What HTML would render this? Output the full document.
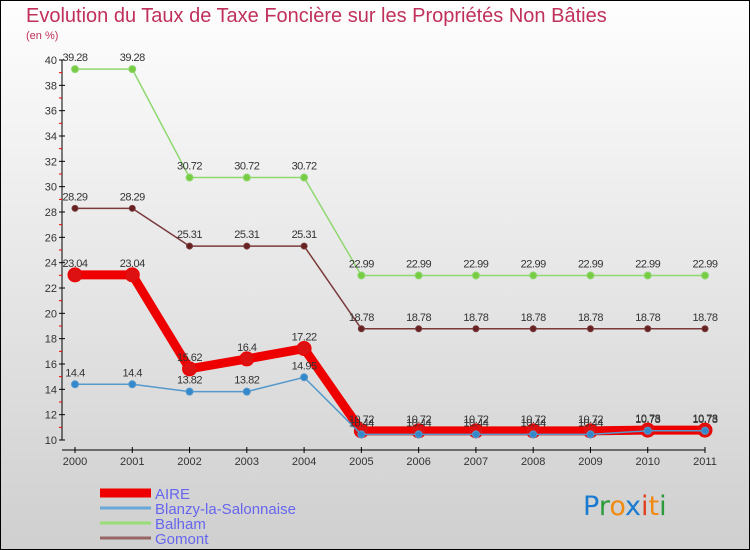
<!DOCTYPE html>
<html><head><meta charset="utf-8"><style>
body{margin:0;}
#wrap{width:750px;height:550px;position:relative;background:linear-gradient(#fefefe,#cfcfcf);box-sizing:border-box;border:1px solid #000;font-family:"Liberation Sans",sans-serif;overflow:hidden}
</style></head><body>
<div id="wrap">
<svg id="chart" width="750" height="550" style="position:absolute;left:-1px;top:-1px">
<text x="26" y="22" font-size="20" fill="#c0305a">Evolution du Taux de Taxe Foncière sur les Propriétés Non Bâties</text>
<text x="26" y="39" font-size="11" fill="#c0305a">(en %)</text>
<g id="axes"></g><g id="series"></g><g id="legend"></g>
<text x="583" y="515" font-size="27" font-family="'DejaVu Sans',sans-serif"><tspan fill="#1a7ad0">P</tspan><tspan fill="#2a9a3a">r</tspan><tspan fill="#f08a10">o</tspan><tspan fill="#1a7ad0">x</tspan><tspan fill="#e04020">i</tspan><tspan fill="#f08a10">t</tspan><tspan fill="#2a9a3a">i</tspan></text>
</svg>
</div>
<script>
const years=[2000,2001,2002,2003,2004,2005,2006,2007,2008,2009,2010,2011];
const aire=[23.04,23.04,15.62,16.4,17.22,10.72,10.72,10.72,10.72,10.72,10.78,10.78];
const blanzy=[14.4,14.4,13.82,13.82,14.95,10.44,10.44,10.44,10.44,10.44,10.73,10.73];
const balham=[39.28,39.28,30.72,30.72,30.72,22.99,22.99,22.99,22.99,22.99,22.99,22.99];
const gomont=[28.29,28.29,25.31,25.31,25.31,18.78,18.78,18.78,18.78,18.78,18.78,18.78];
const yTicks=[10,12,14,16,18,20,22,24,26,28,30,32,34,36,38,40];
const seriesNames=["AIRE","Blanzy-la-Salonnaise","Balham","Gomont"];
const NS="http://www.w3.org/2000/svg";
const X=i=>75+i*(630/11);
const Y=v=>440-(v-10)*(380/30);
function mk(tag,attrs,parent){const e=document.createElementNS(NS,tag);for(const k in attrs)e.setAttribute(k,attrs[k]);parent.appendChild(e);return e;}
const axes=document.getElementById('axes');
let a=mk('line',{x1:62,y1:60,x2:62,y2:440,stroke:'#000'},axes);


a=mk('line',{x1:62,y1:450,x2:705,y2:450,stroke:'#000'},axes);


yTicks.forEach(t=>{
  mk('line',{x1:59,x2:65,y1:Y(t),y2:Y(t),stroke:'#000'},axes);
  if(t<40)mk('line',{x1:59,x2:62,y1:Y(t+1),y2:Y(t+1),stroke:'#e00'},axes);
  const tx=mk('text',{x:57,y:Y(t)+4,'font-size':11,fill:'#333','text-anchor':'end'},axes);
  tx.textContent=t;
  
  
});
years.forEach((y,i)=>{
  mk('line',{x1:X(i),x2:X(i),y1:447,y2:453,stroke:'#000'},axes);
  const tx=mk('text',{x:X(i),y:465,'font-size':11,fill:'#333','text-anchor':'middle'},axes);
  tx.textContent=y;
  
  
});
const sg=document.getElementById('series');
function draw(vals,color,w,r,dot,name){
  const g=mk('g',{},sg);
  
  
  const p=mk('polyline',{points:vals.map((v,i)=>X(i)+','+Y(v)).join(' '),fill:'none',stroke:color,'stroke-width':w,'stroke-linejoin':'round'},g);
  
  
  vals.forEach((v,i)=>{
    const c=mk('circle',{cx:X(i),cy:Y(v),r:r,fill:dot,stroke:color,'stroke-width':1},g);
    
    
    const t=mk('text',{x:X(i),y:Y(v)-8,'font-size':11,fill:'#333','text-anchor':'middle','letter-spacing':'-0.5'},g);
    t.textContent=v;
    
    
  });
}
draw(balham,'#8fd870',1.5,3.5,'#77cc44','balham');
draw(gomont,'#7a3a3a',1.5,3,'#662222','gomont');
draw(aire,'#ee0000',9,7,'#dd1111','aire');
draw(blanzy,'#5599cc',1.5,3.5,'#3388cc','blanzy');
const lg=document.getElementById('legend');
const lc=['#ee0000','#6aa8d8','#99dd77','#996666'],lw=[9,3,3,3];
seriesNames.forEach((n,i)=>{
  const y=493+i*15;
  const l=mk('line',{x1:100,x2:151,y1:y,y2:y,stroke:lc[i],'stroke-width':lw[i]},lg);
  
  
  const t=mk('text',{x:155,y:y+6,'font-size':15,fill:'#6666ee'},lg);
  t.textContent=n;
  
  
});
</script>
</body></html>
